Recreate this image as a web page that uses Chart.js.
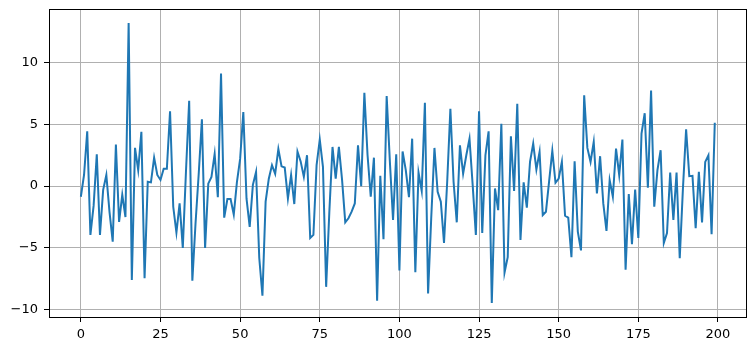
<!DOCTYPE html>
<html>
<head>
<meta charset="utf-8">
<script src="https://cdn.jsdelivr.net/npm/chart.js@4"></script>
<style>
  html, body { margin: 0; padding: 0; background: #fff; }
  #wrap { width: 756px; height: 351px; }
</style>
</head>
<body>
<div id="wrap"><canvas id="chart" width="756" height="351"></canvas></div>
<script>
// Series values (index 0..199)
const seriesValues = [
  -0.86, 0.9, 4.43, -3.95, -1.6, 2.58, -3.95, -0.3, 0.9, -2.1,
  -4.5, 3.36, -2.9, -0.7, -2.5, 13.2, -7.6, 3.1, 1.3, 4.4,
  -7.45, 0.35, 0.3, 2.3, 0.9, 0.5, 1.4, 1.4, 6.05, -1.67,
  -3.76, -1.4, -5.0, 1.2, 6.9, -7.66, -3.0, 1.0, 5.4, -5.0,
  0.2, 0.75, 2.6, -0.9, 9.1, -2.55, -1.05, -1.05, -2.3, 0.35,
  2.2, 6.0, -1.0, -3.3, 0.1, 1.15, -5.8, -8.87, -1.26, 0.6,
  1.7, 1.0, 3.0, 1.6, 1.5, -1.0, 0.9, -1.45, 2.8, 2.0,
  0.75, 2.5, -4.2, -3.95, 1.7, 3.76, 1.56, -8.15, -2.1, 3.17,
  0.6, 3.17, 0.5, -2.93, -2.6, -2.07, -1.4, 3.3, 0.0, 7.55,
  2.5, -0.86, 2.3, -9.27, 0.83, -4.3, 7.28, 2.0, -2.74, 2.58,
  -6.83, 2.8, 1.3, -0.9, 3.84, -6.96, 1.1, -0.38, 6.75, -8.68,
  -2.5, 3.09, -0.46, -1.26, -4.6, 0.35, 6.26, 0.35, -2.93, 3.3,
  1.0, 2.5, 3.84, 0.08, -3.95, 6.05, -3.8, 2.5, 4.43, -9.46,
  -0.19, -1.94, 5.05, -7.0, -5.75, 4.03, -0.4, 6.67, -4.35, 0.3,
  -1.75, 1.96, 3.44, 1.34, 2.77, -2.34, -2.07, 0.4, 2.85, 0.27,
  0.6, 1.96, -2.4, -2.55, -5.75, 2.0, -3.68, -5.2, 7.34, 3.09,
  1.96, 3.58, -0.6, 2.42, -1.4, -3.63, 0.48, -0.86, 3.04, 0.89,
  3.76, -6.77, -0.65, -4.7, -0.27, -4.2, 4.25, 5.9, -0.13, 7.74,
  -1.67, 1.3, 2.9, -4.6, -3.8, 1.1, -2.74, 1.1, -5.83, -0.2,
  4.6, 0.8, 0.83, -3.4, 1.16, -2.93, 1.96, 2.5, -3.9, 5.13
];

const xTicks = [0, 25, 50, 75, 100, 125, 150, 175, 200];
const yTicks = [-10, -5, 0, 5, 10];

// Axis limits like matplotlib's 5% auto margins
const xMin = -10.0, xMax = 208.8;
const yMin = -10.59, yMax = 14.33;

// matplotlib style minus sign
function tickText(v) {
    return String(v).replace('-', '\u2212');
}

// Draws the four-sided axes frame
const frameBox = {
    id: 'frameBox',
    afterDraw(chart) {
        const a = chart.chartArea;
        const ctx = chart.ctx;
        ctx.save();
        ctx.strokeStyle = '#000';
        ctx.lineWidth = 1;
        ctx.strokeRect(Math.round(a.left) + 0.5, Math.round(a.top) + 0.5,
            Math.round(a.right - a.left), Math.round(a.bottom - a.top));
        ctx.restore();
    }
};

const ctx = document.getElementById('chart').getContext('2d');
new Chart(ctx, {
    type: 'line',
    data: {
        datasets: [{
            data: seriesValues.map((v, i) => ({ x: i, y: v })),
            borderColor: '#1f77b4',
            borderWidth: 2,
            pointRadius: 0,
            tension: 0,
            fill: false
        }]
    },
    options: {
        responsive: false,
        animation: false,
        layout: { padding: { top: 9, right: 10, left: 0, bottom: 0 } },
        plugins: {
            legend: { display: false },
            tooltip: { enabled: false }
        },
        scales: {
            x: {
                type: 'linear',
                min: xMin,
                max: xMax,
                afterBuildTicks: scale => { scale.ticks = xTicks.map(v => ({ value: v })); },
                afterFit: scale => {
                    scale.height = 34;
                    scale.paddingLeft = 0;
                    scale.paddingRight = 0;
                },
                grid: { color: '#b0b0b0', lineWidth: 1, tickLength: 5, tickColor: '#000' },
                border: { display: false },
                ticks: {
                    color: '#000',
                    padding: 5,
                    maxRotation: 0,
                    autoSkip: false,
                    font: { family: 'DejaVu Sans', size: 13 },
                    callback: v => tickText(v)
                }
            },
            y: {
                type: 'linear',
                min: yMin,
                max: yMax,
                afterBuildTicks: scale => { scale.ticks = yTicks.map(v => ({ value: v })); },
                afterFit: scale => {
                    scale.width = 49;
                    scale.paddingTop = 0;
                    scale.paddingBottom = 0;
                },
                grid: { color: '#b0b0b0', lineWidth: 1, tickLength: 5, tickColor: '#000' },
                border: { display: false },
                ticks: {
                    color: '#000',
                    padding: 6,
                    autoSkip: false,
                    font: { family: 'DejaVu Sans', size: 13 },
                    callback: v => tickText(v)
                }
            }
        }
    },
    plugins: [frameBox]
});
</script>
</body>
</html>
